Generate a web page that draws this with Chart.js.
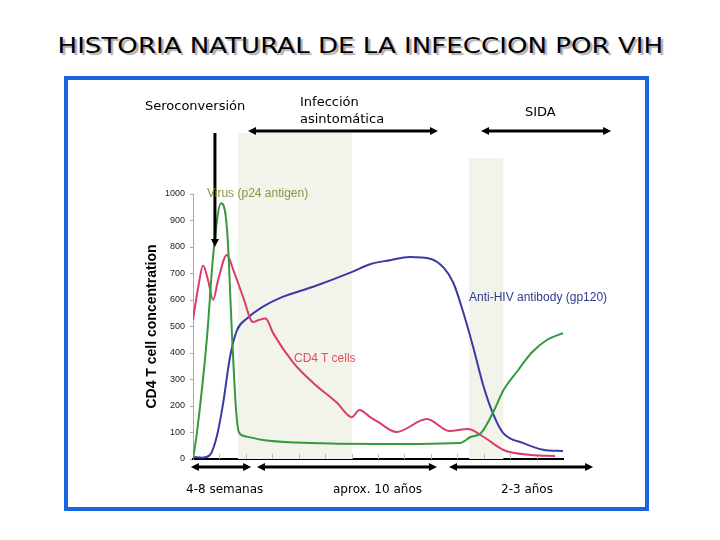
<!DOCTYPE html>
<html>
<head>
<meta charset="utf-8">
<script src="https://cdn.jsdelivr.net/npm/chart.js@4/dist/chart.umd.min.js"></script>
<style>
  body { margin: 0; background: #fff; }
  #page { position: relative; width: 720px; height: 540px; overflow: hidden; font-family: "DejaVu Sans", sans-serif; }
  #title { position: absolute; top: 33px; left: 0; width: 720px; text-align: center; font-size: 22px; color: #000;
           text-shadow: 2px 2px 1px #aaa; white-space: nowrap; }
  #title span { display: inline-block; transform-origin: center; }
  #box { position: absolute; left: 64px; top: 76px; width: 585px; height: 435px; border: 4px solid #1866e0; box-sizing: border-box; }
  canvas { position: absolute; left: 0; top: 0; }
  .note { position: absolute; font-size: 13px; color: #000; white-space: nowrap; line-height: 17px; }
  .bottom { font-size: 12px; }
  .lbl { position: absolute; font-family: "Liberation Sans", Arial, sans-serif; font-size: 12px; white-space: nowrap; line-height: 14px; }
</style>
</head>
<body>
<div id="page">
  <div id="title"><span id="titleText">HISTORIA NATURAL DE LA INFECCION POR VIH</span></div>
  <div id="box"></div>
  <canvas id="hivChart" width="720" height="540"></canvas>
  <div class="note" style="left:145px; top:97px;">Seroconversión</div>
  <div class="note" style="left:300px; top:93px;">Infección<br>asintomática</div>
  <div class="note" style="left:525px; top:103px;">SIDA</div>
  <div class="note bottom" style="left:186px; top:481px;">4-8 semanas</div>
  <div class="note bottom" style="left:333px; top:481px;">aprox. 10 años</div>
  <div class="note bottom" style="left:501px; top:481px;">2-3 años</div>
  <div class="lbl" style="left:207px; top:186px; color:#869640;">Virus (p24 antigen)</div>
  <div class="lbl" style="left:294px; top:351px; color:#e0505e;">CD4 T cells</div>
  <div class="lbl" style="left:469px; top:290px; color:#2e3a8e;">Anti-HIV antibody (gp120)</div>
</div>
<script>
// Time axis (arbitrary units, one tick per unit)
const xMin = 0;
const xMax = 14;

// Virus (p24 antigen)
const virusX = [0, 0.15, 0.53, 0.77, 1.06, 1.29, 1.48, 1.63, 1.74, 2.0, 2.65, 3.9, 5.5, 7.0, 8.5, 10.1, 10.5, 10.9, 11.4, 11.75, 12.3, 12.8, 13.4, 14];
const virusY = [0, 100, 460, 775, 965, 865, 460, 185, 100, 85, 72, 62, 58, 57, 57, 60, 83, 98, 185, 260, 335, 400, 450, 475];

// CD4 T cells
const cd4X = [0, 0.2, 0.38, 0.57, 0.76, 0.95, 1.28, 1.52, 1.9, 2.27, 2.5, 2.75, 3.03, 3.8, 4.55, 5.45, 6.0, 6.3, 6.7, 7.0, 7.7, 8.85, 9.7, 10.4, 11.0, 11.75, 12.8, 13.7];
const cd4Y = [525, 650, 730, 675, 600, 675, 770, 715, 610, 517, 525, 530, 475, 363, 287, 212, 158, 185, 158, 140, 102, 151, 106, 113, 83, 34, 15, 11];

// Anti-HIV antibody (gp120)
const abX = [0, 0.35, 0.64, 0.9, 1.14, 1.4, 1.67, 2.04, 2.65, 3.3, 4.55, 6.0, 6.7, 7.45, 8.2, 9.0, 9.5, 9.85, 10.2, 10.6, 11.0, 11.4, 11.74, 12.5, 13.25, 14];
const abY = [8, 5, 15, 85, 210, 385, 487, 530, 575, 608, 650, 705, 735, 750, 762, 755, 720, 665, 562, 423, 272, 160, 98, 60, 35, 30];

// Shaded phases: [start, end] on the time axis and top (in y units)
const shadeStart = [1.7, 10.45];
const shadeEnd = [6.02, 11.74];
const shadeTop = [1230, 1136];

// Annotation arrows (time axis / y units)
const arrowStart = [2.08, 10.9, -0.08, 2.42, 9.69];
const arrowEnd = [9.27, 15.82, 2.2, 9.23, 15.14];
const arrowLevel = [1238, 1238, -30, -30, -30];
const seroX = 0.83;
const seroFrom = 1230;
const seroTo = 800;

function toPoints(xs, ys) {
  return xs.map((x, i) => ({ x: x, y: ys[i] }));
}

// light shaded bands behind the curves
const shadePlugin = {
  id: 'shade',
  beforeDatasetsDraw(chart) {
    const { ctx, scales: { x, y } } = chart;
    ctx.save();
    ctx.fillStyle = '#f2f3ea';
    shadeStart.forEach((s, i) => {
      const x0 = x.getPixelForValue(s);
      const x1 = x.getPixelForValue(shadeEnd[i]);
      const yt = y.getPixelForValue(shadeTop[i]);
      const yb = y.getPixelForValue(0);
      ctx.fillRect(x0, yt, x1 - x0, yb - yt);
    });
    // small upward ticks on the time axis
    ctx.strokeStyle = '#bbb';
    ctx.lineWidth = 1;
    for (let k = xMin + 1; k < xMax; k++) {
      const px = Math.round(x.getPixelForValue(k)) + 0.5;
      ctx.beginPath();
      ctx.moveTo(px, y.getPixelForValue(0));
      ctx.lineTo(px, y.getPixelForValue(0) - 5);
      ctx.stroke();
    }
    ctx.restore();
  }
};

function arrowHead(ctx, px, py, dx, dy) {
  const len = 8, half = 4;
  const nx = -dy, ny = dx;
  ctx.beginPath();
  ctx.moveTo(px, py);
  ctx.lineTo(px - dx * len + nx * half, py - dy * len + ny * half);
  ctx.lineTo(px - dx * len - nx * half, py - dy * len - ny * half);
  ctx.closePath();
  ctx.fill();
}

// black arrows for phases and seroconversion
const arrowPlugin = {
  id: 'arrows',
  afterDraw(chart) {
    const { ctx, scales: { x, y } } = chart;
    ctx.save();
    ctx.strokeStyle = '#000';
    ctx.fillStyle = '#000';
    ctx.lineWidth = 3;
    arrowStart.forEach((s, i) => {
      const x0 = x.getPixelForValue(s);
      const x1 = x.getPixelForValue(arrowEnd[i]);
      const py = y.getPixelForValue(arrowLevel[i]);
      ctx.beginPath();
      ctx.moveTo(x0 + 4, py);
      ctx.lineTo(x1 - 4, py);
      ctx.stroke();
      arrowHead(ctx, x0, py, -1, 0);
      arrowHead(ctx, x1, py, 1, 0);
    });
    const sx = x.getPixelForValue(seroX);
    const sy0 = y.getPixelForValue(seroFrom);
    const sy1 = y.getPixelForValue(seroTo);
    ctx.beginPath();
    ctx.moveTo(sx, sy0);
    ctx.lineTo(sx, sy1 - 4);
    ctx.stroke();
    arrowHead(ctx, sx, sy1, 0, 1);
    ctx.restore();
  }
};

const ctx = document.getElementById('hivChart').getContext('2d');
new Chart(ctx, {
  type: 'line',
  data: {
    datasets: [
      { label: 'Virus (p24 antigen)', data: toPoints(virusX, virusY), borderColor: '#35993d' },
      { label: 'CD4 T cells', data: toPoints(cd4X, cd4Y), borderColor: '#d83d6e' },
      { label: 'Anti-HIV antibody (gp120)', data: toPoints(abX, abY), borderColor: '#3a3aa6' }
    ].map(d => Object.assign(d, { borderWidth: 2, pointRadius: 0, fill: false, cubicInterpolationMode: 'monotone' }))
  },
  options: {
    responsive: false,
    animation: false,
    devicePixelRatio: 1,
    layout: { padding: { left: 140, top: 194, right: 157, bottom: 81 } },
    plugins: { legend: { display: false }, tooltip: { enabled: false } },
    scales: {
      x: {
        type: 'linear', min: xMin, max: xMax,
        ticks: { display: false },
        grid: { display: false, drawTicks: false },
        border: { color: '#000', width: 2 },
        afterFit(scale) { scale.height = 0; }
      },
      y: {
        min: 0, max: 1000,
        ticks: {
          stepSize: 100, color: '#222', padding: 5, font: { family: 'Liberation Sans', size: 9 },
          callback: (value) => String(value)
        },
        grid: { drawOnChartArea: false, tickLength: 3, color: '#aaa' },
        border: { color: '#aaa', width: 1 },
        title: {
          display: true, text: 'CD4 T cell concentration', color: '#000',
          font: { family: 'Liberation Sans', size: 14, weight: 'bold' },
          padding: { top: 4, bottom: 0 }
        },
        afterFit(scale) { scale.width = 53; }
      }
    }
  },
  plugins: [shadePlugin, arrowPlugin]
});

// stretch the title to the slide width
const t = document.getElementById('titleText');
t.style.transform = 'scaleX(' + (606 / t.offsetWidth) + ')';
</script>
</body>
</html>
